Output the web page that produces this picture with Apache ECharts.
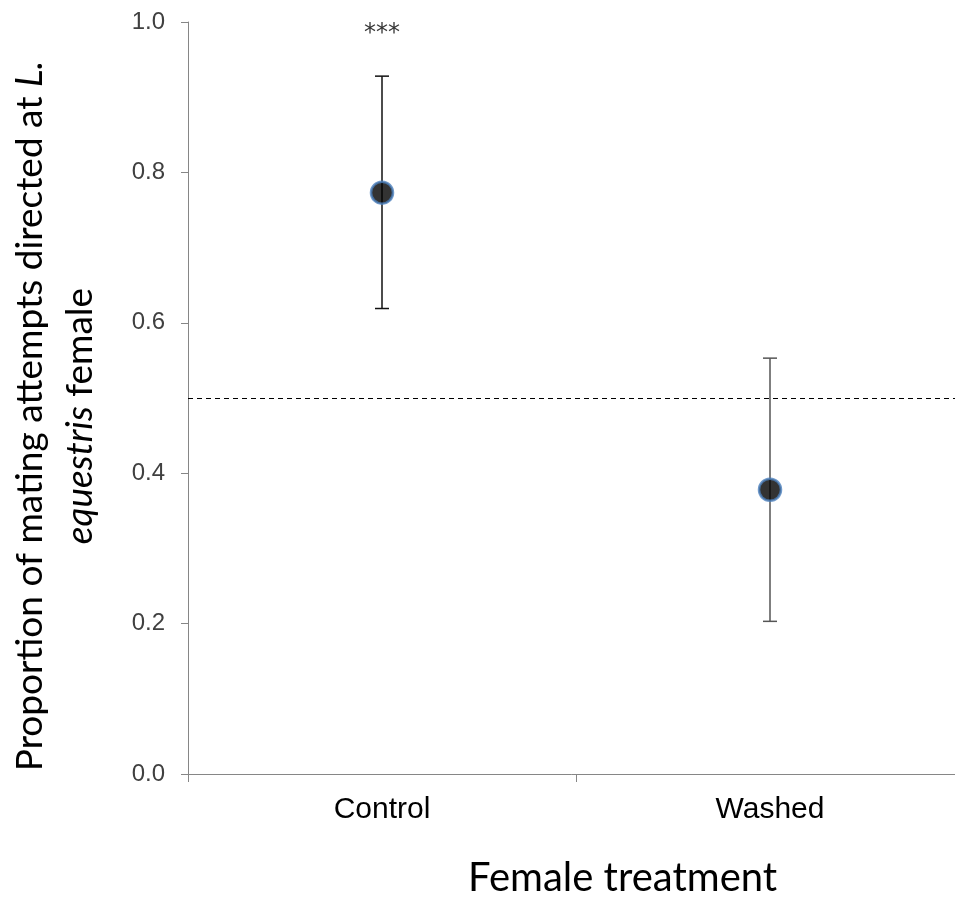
<!DOCTYPE html>
<html><head><meta charset="utf-8">
<script src="https://cdn.jsdelivr.net/npm/echarts@6/dist/echarts.min.js"></script>
<style>html,body{margin:0;padding:0;background:#fff}#c{width:955px;height:904px}</style>
</head><body><div id="c"></div>
<script>
const categories = ['Control', 'Washed'];
const means = [0.773, 0.378];
const upper = [0.928, 0.553];
const lower = [0.619, 0.203];
const sigLabels = ['***', ''];
const sigY = [0.985, null];
const refLine = 0.5;

const chart = echarts.init(document.getElementById('c'));
chart.setOption({
  animation: false,
  grid: { left: 188, top: 22, width: 776, bottom: 130, containLabel: false, outerBoundsMode: 'none' },
  xAxis: {
    type: 'category', data: categories,
    axisLine: { lineStyle: { color: '#868686', width: 1 } },
    axisTick: { show: true, length: 8, lineStyle: { color: '#868686' } },
    axisLabel: { fontFamily: 'Liberation Sans', fontSize: 30, color: '#000', margin: 21 }
  },
  yAxis: {
    type: 'value', min: 0, max: 1, interval: 0.2,
    axisLine: { show: true, lineStyle: { color: '#868686', width: 1 } },
    axisTick: { show: true, length: 7, lineStyle: { color: '#868686' } },
    splitLine: { show: false },
    axisLabel: { fontFamily: 'Liberation Sans', fontSize: 24, color: '#404040', margin: 23, formatter: v => v.toFixed(1) }
  },
  graphic: [
    {
      type: 'text', x: 468, y: 858,
      style: { text: 'Female treatment', font: '40px Lato', fill: '#000' }
    },
    {
      type: 'text', x: 55, y: 416, rotation: Math.PI / 2,
      style: {
        text: '{n|Proportion of mating attempts directed at }{i|L.}\n{i|equestris}{n| female}',
        align: 'center', verticalAlign: 'middle',
        rich: {
          n: { fontFamily: 'Lato', fontSize: 37, fill: '#000', lineHeight: 50, align: 'center' },
          i: { fontFamily: 'Lato', fontStyle: 'italic', fontSize: 37, fill: '#000', lineHeight: 50, align: 'center' }
        }
      }
    }
  ],
  series: [
    {
      type: 'custom',
      renderItem: function (params, api) {
        const x = api.coord([api.value(0), api.value(1)])[0];
        const yTop = api.coord([api.value(0), api.value(1)])[1];
        const yBot = api.coord([api.value(0), api.value(2)])[1];
        const hw = 7;
        const col = params.dataIndex === 0 ? '#111' : '#555';
        const st = { stroke: col, lineWidth: 1.5 };
        return {
          type: 'group', children: [
            { type: 'line', shape: { x1: x, y1: yTop, x2: x, y2: yBot }, style: st },
            { type: 'line', shape: { x1: x - hw, y1: yTop, x2: x + hw, y2: yTop }, style: st },
            { type: 'line', shape: { x1: x - hw, y1: yBot, x2: x + hw, y2: yBot }, style: st }
          ]
        };
      },
      data: categories.map((c, i) => [i, upper[i], lower[i]]),
      z: 2
    },
    {
      type: 'scatter',
      data: categories.map((c, i) => [c, means[i]]),
      symbol: 'circle', symbolSize: 22,
      itemStyle: { color: '#000', borderColor: '#4a7ebb', borderWidth: 2.5 },
      z: 5,
      markLine: {
        silent: true, symbol: 'none',
        label: { show: false },
        lineStyle: { color: '#000', type: [5, 4], width: 1 },
        data: [{ yAxis: refLine }]
      }
    },
    {
      type: 'scatter',
      data: categories.map((c, i) => sigY[i] == null ? null : [c, sigY[i]]).filter(d => d),
      symbolSize: 0,
      label: { show: true, position: 'inside', formatter: p => sigLabels[p.dataIndex], fontFamily: 'DejaVu Sans', fontSize: 24, color: '#000' },
      z: 6
    }
  ]
});
</script></body></html>
